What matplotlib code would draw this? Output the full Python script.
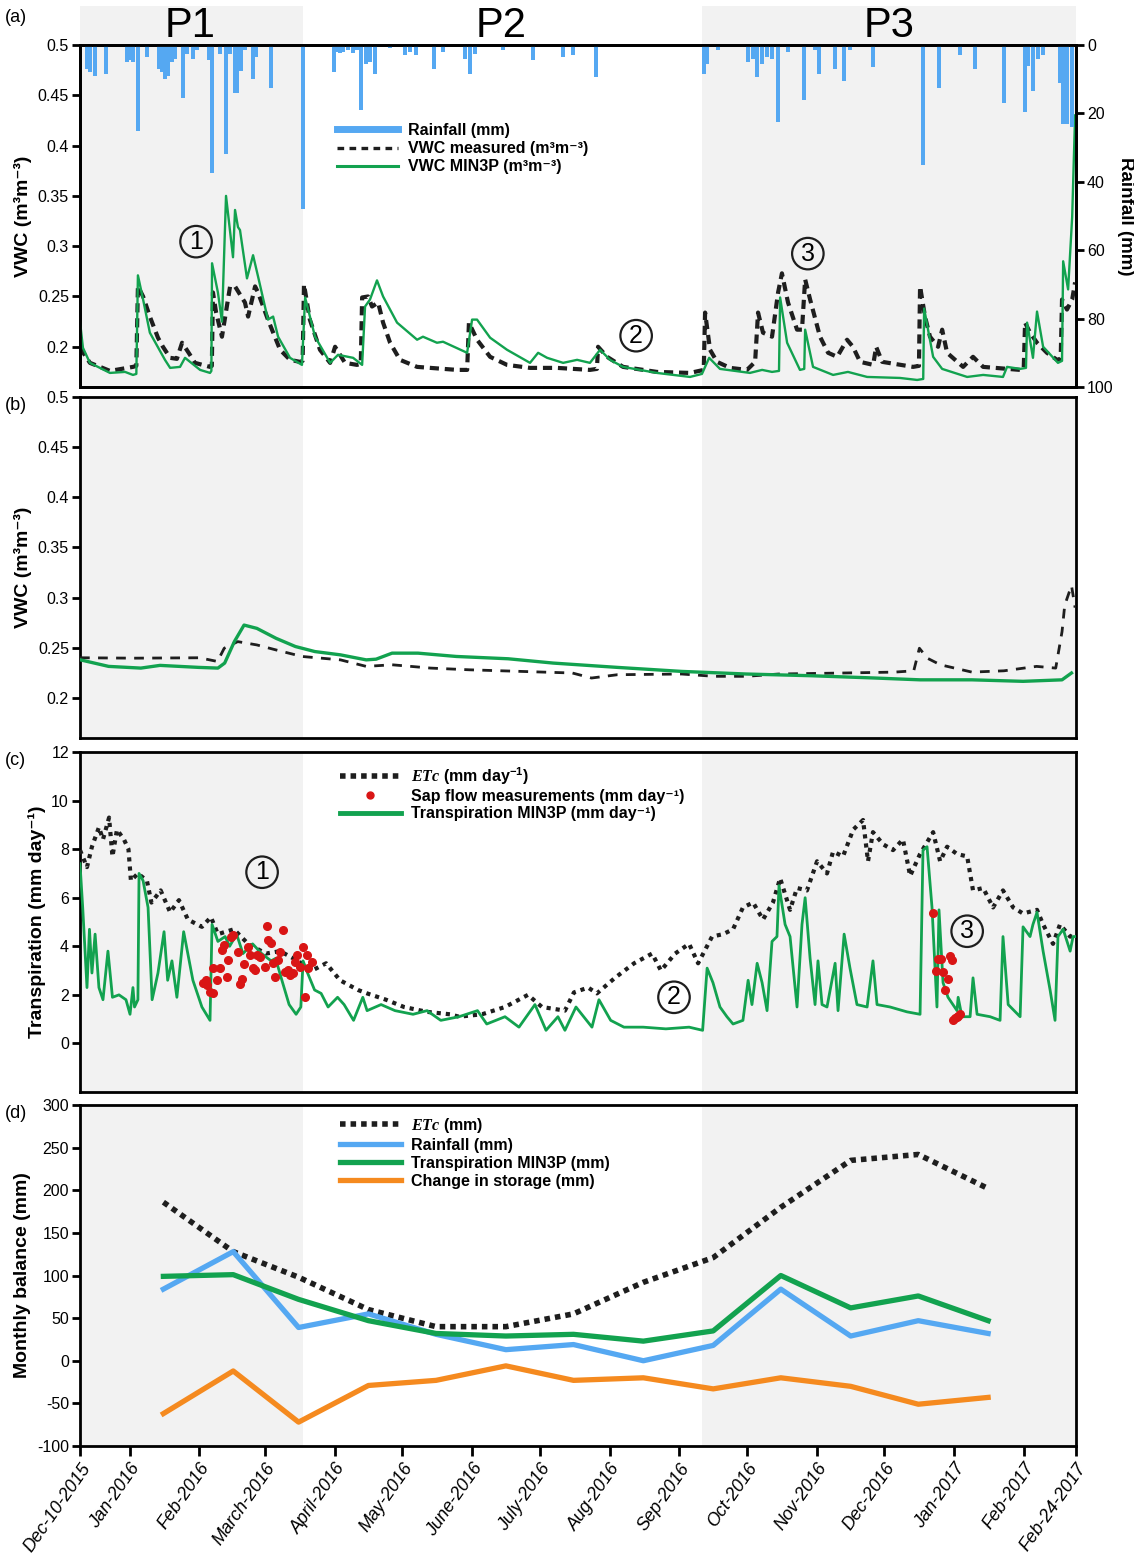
import numpy as np
import matplotlib
matplotlib.use("Agg")
import matplotlib.pyplot as plt
from matplotlib.lines import Line2D

plt.rcParams['font.family'] = ['Liberation Sans', 'DejaVu Sans']
plt.rcParams['mathtext.fontset'] = 'custom'
plt.rcParams['mathtext.it'] = 'Liberation Serif:italic:bold'
plt.rcParams['mathtext.default'] = 'regular'

START = np.datetime64('2015-12-10')
END = np.datetime64('2017-02-24')
P1 = ('2015-12-10', '2016-03-18')
P2 = ('2016-03-18', '2016-09-11')
P3 = ('2016-09-11', '2017-02-24')

# ---- data: (days since 2015-12-10, value) ----
rain = [(3, 7), (4.4, 8), (6.7, 9), (11.5, 8.5), (20.9, 5), (22.6, 4.5), (23.5, 5), (25.7, 25),
        (29.7, 3.5), (35, 7), (36.4, 8), (37.7, 10), (39, 9), (40.8, 5), (42.2, 4), (45.7, 15.5),
        (47.5, 2.5), (50.1, 4), (51.9, 1.5), (57.2, 4.5), (58.6, 37.5), (62.1, 2.5), (64.8, 32),
        (66.6, 2.5), (68.8, 14), (69.7, 14), (71.5, 7.5), (73.2, 1.5), (76.8, 10), (78.1, 3.5),
        (84.8, 12.5), (99, 48), (112.7, 8), (114, 2), (115.4, 2.4), (116.7, 2), (118.9, 1.5),
        (121.2, 2.3), (122.9, 1.5), (124.7, 19), (127, 5.5), (128.7, 5), (130.9, 8.5), (137.6, 1),
        (144.2, 3), (146.5, 2), (149.1, 3), (157.1, 7), (161.1, 2), (170.9, 4), (173.1, 8.5),
        (175.3, 2.5), (187.7, 1.5), (201, 4.5), (214.4, 3.5), (218.8, 3), (229, 9.5), (277, 8.5),
        (278.3, 5.5), (283.1, 1.5), (296.5, 5), (298.7, 4), (300.5, 9.5), (302.7, 5.5), (304.9, 3.5),
        (307.1, 4), (309.8, 22.5), (314.2, 2), (321.3, 16), (326.2, 1.5), (328, 8.5), (335.1, 7),
        (339.1, 10.5), (341.7, 1.5), (352, 6.5), (374.1, 35), (381.2, 12.5), (390.5, 3), (397.2, 7),
        (410.1, 17), (419.4, 19.5), (420.7, 6), (422.9, 13.5), (425.2, 4), (427.4, 3), (434.9, 11),
        (436.3, 23), (438, 23), (440.3, 24)]

vwc_meas_a = [(0, .199), (4.4, .184), (8.9, .18), (13.3, .176), (23.5, .18), (25, .181), (25.7, .26),
              (28, .25), (31, .23), (34.6, .209), (36.8, .2), (40, .189), (43, .188), (45.3, .204),
              (48.8, .192), (51, .184), (57.7, .18), (58.5, .181), (59, .254), (60.4, .234), (63, .21),
              (66.6, .26), (68.8, .26), (73.2, .244), (74.6, .23), (77.7, .26), (79, .254), (83.4, .227),
              (88.8, .197), (93.2, .187), (97.6, .185), (98.8, .186), (99.4, .262), (102, .227),
              (106.5, .197), (111, .184), (113.2, .2), (117.6, .184), (122.9, .182), (124.6, .183),
              (125.2, .249), (127.8, .25), (129.6, .24), (132.3, .244), (134.5, .224), (137.6, .204),
              (142, .187), (149.6, .18), (167.3, .177), (171.8, .177), (172.6, .224), (176.2, .207),
              (182, .19), (189.5, .182), (199.7, .179), (211.7, .179), (226.3, .177), (229.4, .178),
              (229.9, .2), (233.9, .19), (241, .18), (256, .175), (270.7, .174), (276.8, .177),
              (277.4, .234), (279.6, .197), (282.7, .185), (288.5, .179), (296, .177), (299.6, .185),
              (300.9, .234), (303.1, .214), (307.1, .21), (309.8, .254), (311.5, .273), (314.2, .244),
              (318.2, .217), (320.4, .217), (321.8, .267), (324, .247), (328.4, .21), (332, .194),
              (336, .19), (340.4, .207), (343, .2), (346.2, .185), (352, .182), (353.3, .2), (356, .185),
              (369.7, .18), (372.3, .181), (372.8, .26), (375, .23), (377.2, .21), (380.8, .2),
              (382.6, .217), (384.8, .194), (391.9, .18), (396.3, .19), (400.8, .18), (417.2, .177),
              (418.8, .178), (419.4, .224), (421.6, .214), (424.7, .204), (429.1, .194), (433.6, .187),
              (435.2, .188), (435.8, .247), (438, .237), (440.3, .247), (441.6, .264)]

vwc_min3p_a = [(0, .225), (1.3, .199), (4.4, .184), (13.3, .174), (20, .175), (23.5, .172), (25, .173),
               (25.7, .271), (28, .247), (31, .214), (37.7, .187), (40, .179), (44.4, .18), (46.6, .189),
               (53.3, .177), (57.7, .174), (58.3, .176), (58.6, .283), (61.2, .254), (63, .225),
               (64.8, .35), (67.9, .289), (68.8, .336), (70.1, .319), (71, .316), (74.1, .268),
               (76.8, .291), (79, .27), (83.4, .227), (85.7, .23), (87.9, .21), (93.2, .189), (98.5, .182),
               (99.9, .249), (104.3, .21), (111, .184), (114.5, .192), (121.2, .189), (125.2, .182),
               (126.5, .24), (128.7, .247), (131.8, .266), (134.5, .25), (140.7, .224), (149.6, .207),
               (152.2, .21), (158.4, .204), (161.1, .205), (171.8, .194), (174, .227), (176.2, .227),
               (182, .209), (189.5, .197), (199.7, .184), (203.3, .194), (207.3, .189), (214.4, .184),
               (220.6, .187), (226.3, .184), (230.8, .197), (235.2, .187), (241, .18), (256, .174),
               (270.7, .17), (276, .173), (279.2, .189), (284, .178), (297.3, .174), (302.7, .177),
               (307.1, .175), (310.2, .176), (310.7, .249), (313.8, .204), (319.5, .177), (321.4, .178),
               (321.8, .217), (325.3, .18), (334.2, .172), (340.8, .175), (349.3, .17), (363.9, .169),
               (371.5, .167), (374.2, .168), (374.6, .238), (378.6, .19), (382.6, .178), (393.7, .17),
               (400.8, .172), (409.6, .17), (411.4, .18), (417.2, .178), (419.8, .179), (420.3, .224),
               (422.9, .189), (424.7, .235), (427.4, .2), (434, .184), (435.8, .186), (436.3, .285),
               (438.5, .257), (440.3, .329), (441.6, .43)]

vwc_meas_b = [(0, .24), (24, .2396), (53, .24), (61, .2363), (64, .2495), (70, .2561), (78.5, .2528),
              (87, .2478), (98.5, .2413), (115.6, .2379), (127, .2314), (138.5, .233), (155.6, .2297),
              (172.8, .228), (195.7, .2264), (218.5, .2248), (227, .2198), (238.5, .2231), (267, .2238),
              (281.4, .2215), (295.7, .2215), (310, .2238), (338.6, .2248), (361.5, .2257), (370, .227),
              (372.5, .2495), (376, .2396), (381.8, .233), (395.8, .2257), (410, .227), (424.5, .2314),
              (433, .2297), (435.8, .266), (437, .2924), (440, .312), (441.6, .29)]

vwc_min3p_b = [(0, .238), (12.7, .2314), (27, .2297), (35.5, .2324), (52.7, .2304), (61.2, .2297),
               (64.2, .2347), (68.5, .2561), (72.8, .2726), (78.5, .2693), (87, .2594), (95.6, .2512),
               (104.2, .2462), (115.6, .2429), (127, .2379), (131.4, .2386), (138.5, .2446), (150, .2446),
               (167, .2413), (190, .239), (210, .2347), (238.5, .2304), (267, .2264), (295.7, .2238),
               (324.3, .2221), (352.8, .2198), (372.8, .218), (395.8, .218), (418.5, .2165),
               (435.8, .218), (440, .2248)]

etc_daily = [(0, 7.96), (3.1, 7.26), (5.3, 8.1), (8.4, 8.9), (10.2, 8.4), (12.9, 9.3), (14.4, 7.7),
             (16.4, 8.8), (19.5, 8.4), (21.5, 8.0), (22.6, 6.7), (25.7, 7.0), (29.7, 6.7), (31.7, 5.8),
             (35.8, 6.3), (40, 5.4), (43.9, 5.9), (47.9, 5.1), (54.1, 4.8), (58.1, 5.2), (61.2, 4.5),
             (68.3, 4.7), (74.6, 4.1), (82.5, 3.7), (88.8, 3.8), (96.7, 3.4), (103, 3.0), (109.2, 3.3),
             (115.4, 2.6), (123.4, 2.2), (127.4, 2.06), (135.8, 1.8), (143.8, 1.5), (154, 1.3),
             (164.2, 1.2), (168.2, 1.1), (178.4, 1.2), (188.6, 1.5), (198.8, 2.0), (205, 1.5),
             (215.2, 1.35), (219.2, 2.1), (225.5, 2.3), (229.4, 2.06), (237.4, 2.7), (245.9, 3.3),
             (253.9, 3.7), (257.8, 3.0), (264.1, 3.7), (270.3, 4.1), (274.3, 3.3), (280.5, 4.4),
             (285.4, 4.5), (289.8, 4.7), (294.2, 5.6), (298.7, 5.8), (303.1, 5.1), (307.5, 5.8),
             (310.7, 6.8), (315.1, 5.5), (318.2, 6.4), (322.6, 6.3), (327.1, 7.5), (331.5, 7.0),
             (334.2, 7.9), (338.6, 7.7), (343.1, 8.8), (347.5, 9.2), (349.7, 7.5), (351.9, 8.7),
             (356.4, 8.2), (360.8, 7.96), (365.2, 8.4), (368.4, 6.9), (372.8, 7.8), (378.6, 8.7),
             (381.7, 7.5), (384.8, 8.1), (389.2, 7.8), (393.7, 7.7), (396.3, 6.3), (400.8, 6.4),
             (405.2, 5.6), (409.6, 6.3), (414.1, 5.6), (418.5, 5.35), (424.7, 5.5), (427.4, 4.9),
             (431.8, 4.1), (434.9, 4.9), (439.4, 4.4), (441.6, 4.4)]

transp_min3p = [(0, 7.4), (1.2, 5.6), (3.1, 2.3), (4.2, 4.7), (5.3, 2.9), (6.7, 4.5), (8.4, 2.3),
                (10.2, 1.8), (12.4, 3.8), (14.4, 1.9), (17.3, 2.0), (20.4, 1.8), (22.2, 1.2), (23.5, 2.3),
                (24.2, 1.5), (25.7, 1.8), (26.2, 7.0), (28, 6.7), (30.2, 5.6), (32, 1.8), (34.6, 2.9),
                (37.3, 4.6), (38.9, 2.6), (40.8, 3.4), (43, 1.9), (46, 4.6), (50.1, 2.6), (54.1, 1.5),
                (57.7, 0.95), (58.6, 4.9), (61.2, 4.2), (64.4, 4.4), (66.4, 4.0), (69.5, 4.5), (72.3, 3.7),
                (76.6, 4.1), (80.6, 3.7), (84.8, 3.4), (86.8, 3.5), (89.6, 2.6), (92.8, 1.6), (95.9, 1.2),
                (98, 1.5), (99, 3.4), (101, 2.9), (104.1, 2.2), (107, 2.06), (110.1, 1.5), (114.3, 1.9),
                (117.2, 1.6), (121.4, 0.95), (125.5, 1.9), (127.4, 1.35), (133.6, 1.6), (139.8, 1.35),
                (147.8, 1.2), (154, 1.35), (160.1, 0.95), (168.2, 1.1), (176.4, 1.35), (180.5, 0.8),
                (188.6, 1.1), (194.8, 0.67), (201.9, 1.6), (206.8, 0.54), (212.1, 1.1), (215.2, 0.54),
                (220.1, 1.5), (227.2, 0.67), (230.3, 1.8), (235.5, 0.95), (241.4, 0.67), (249.9, 0.67),
                (260, 0.6), (270.3, 0.67), (276.3, 0.54), (278.3, 3.1), (280.9, 2.5), (284, 1.5),
                (287.1, 1.1), (289.8, 0.8), (294.2, 0.95), (296.5, 2.6), (298.2, 1.6), (300.5, 3.3),
                (302.7, 2.5), (304.9, 1.35), (307.1, 4.2), (309.3, 4.4), (310.2, 6.5), (312.9, 4.9),
                (315.1, 4.4), (318.2, 1.5), (320.4, 4.9), (321.8, 6.0), (324, 3.5), (326.2, 1.6),
                (327.5, 3.4), (329.3, 1.6), (331.5, 1.5), (335.1, 3.3), (336.4, 1.35), (339.1, 4.5),
                (341.7, 3.1), (344.8, 1.6), (349.3, 1.5), (351.9, 3.4), (353.7, 1.6), (359.5, 1.5),
                (367, 1.3), (372.8, 1.2), (374.1, 7.96), (375.9, 8.1), (378.1, 5.6), (380.3, 1.5),
                (381.2, 5.5), (383, 2.5), (385.2, 1.9), (389.2, 1.35), (389.7, 1.9), (391.4, 1.1),
                (395, 1.1), (396.3, 2.7), (398.1, 1.2), (403.9, 1.1), (408.3, 0.95), (409.6, 4.4),
                (411.9, 1.6), (417.2, 1.1), (418.5, 4.8), (421.6, 4.4), (422.9, 4.9), (424.7, 5.4),
                (427.4, 3.8), (430.5, 2.2), (432.7, 0.95), (434, 4.4), (436.3, 4.7), (439.4, 3.8),
                (440.7, 4.4), (442, 4.4)]

sap_flow = [(82.9, 4.82), (90, 4.66), (67.9, 4.45), (66.9, 4.38), (63.9, 4.04), (62.9, 3.84), (70.1, 3.77),
            (74.6, 3.97), (75.4, 3.63), (78.4, 3.63), (79.9, 3.54), (83.4, 4.25), (84.6, 4.12),
            (88.8, 3.77), (87.9, 3.42), (85.7, 3.3), (82.1, 3.13), (65.7, 3.42), (72.8, 3.26),
            (76.8, 3.09), (77.7, 3.01), (99, 3.97), (96.2, 3.63), (95.4, 3.35), (100.6, 3.63),
            (102.8, 3.35), (97.6, 3.15), (101.2, 3.09), (92.3, 3.01), (91, 2.94), (93.2, 2.8),
            (94.4, 2.88), (86.5, 2.73), (62.1, 3.09), (58.9, 3.09), (65.1, 2.73), (60.7, 2.63),
            (71.8, 2.67), (71, 2.43), (55.9, 2.63), (54.6, 2.47), (56.2, 2.39), (57.7, 2.12),
            (59.2, 2.06), (99.9, 1.91),
            (378.7, 5.35), (380.9, 3.49), (382, 3.46), (386.1, 3.59), (386.9, 3.42), (379.9, 2.98),
            (382.9, 2.94), (385.1, 2.64), (383.9, 2.19), (387.6, 0.95), (389.1, 1.08), (390.5, 1.2),
            (389.8, 1.11), (388.2, 1.03)]

month_mid = ['2016-01-16', '2016-02-16', '2016-03-16', '2016-04-16', '2016-05-16', '2016-06-16',
             '2016-07-16', '2016-08-16', '2016-09-16', '2016-10-16', '2016-11-16', '2016-12-16',
             '2017-01-16']
etc_month = [186, 128, 98, 60, 40, 40, 55, 92, 121, 180, 235, 242, 202]
rain_month = [84, 128, 39, 55, 31, 13, 19, 0, 18, 84, 29, 47, 32]
transp_month = [99, 101, 72, 47, 32, 29, 31, 23, 35, 100, 62, 76, 47]
storage_month = [-62, -12, -72, -29, -23, -6, -23, -20, -33, -20, -30, -51, -43]

tick_dates = ['2015-12-10', '2016-01-01', '2016-02-01', '2016-03-01', '2016-04-01', '2016-05-01',
              '2016-06-01', '2016-07-01', '2016-08-01', '2016-09-01', '2016-10-01', '2016-11-01',
              '2016-12-01', '2017-01-01', '2017-02-01', '2017-02-24']
tick_labels = ['Dec-10-2015', 'Jan-2016', 'Feb-2016', 'March-2016', 'April-2016', 'May-2016',
               'June-2016', 'July-2016', 'Aug-2016', 'Sep-2016', 'Oct-2016', 'Nov-2016',
               'Dec-2016', 'Jan-2017', 'Feb-2017', 'Feb-24-2017']

BLUE = '#55a8f2'
GREEN = '#12a24f'
ORANGE = '#f58a1f'
RED = '#d91515'
BLACK = '#1e1e1e'
SHADE = '#f2f2f2'


def to_dates(days):
    mins = np.round(np.asarray(days, dtype=float) * 1440).astype('timedelta64[m]')
    return START + mins


def split(pairs):
    arr = np.array(pairs, dtype=float)
    return to_dates(arr[:, 0]), arr[:, 1]


def shade(ax):
    for s, e in (P1, P3):
        ax.axvspan(np.datetime64(s), np.datetime64(e), color=SHADE, lw=0, zorder=0)
    ax.set_xlim(START, END)


def style(ax, show_x=False):
    for sp in ax.spines.values():
        sp.set_linewidth(2)
    ax.tick_params(axis='y', direction='out', length=6, width=2, labelsize=11.5, pad=2)
    if not show_x:
        ax.tick_params(axis='x', bottom=False, labelbottom=False)


def circle_label(ax, d, v, s):
    ax.text(to_dates([d])[0], v, s, fontsize=18, ha='center', va='center', zorder=6,
            bbox=dict(boxstyle='circle,pad=0.15', fc='none', ec=BLACK, lw=1.6))


LEG = dict(loc='upper left', frameon=False, borderpad=0, borderaxespad=0,
           handlelength=3.8, handletextpad=0.65, prop={'weight': 'bold', 'size': 11.5})

fig = plt.figure(figsize=(11.34, 15.53), dpi=100)
H = 1553.0
L, W = 80 / 1134, 996 / 1134

ax_h = fig.add_axes([L, 1 - 45 / H, W, 39 / H])
ax_a = fig.add_axes([L, 1 - 387 / H, W, 342 / H])
ax_b = fig.add_axes([L, 1 - 738 / H, W, 341 / H])
ax_c = fig.add_axes([L, 1 - 1092 / H, W, 340 / H])
ax_d = fig.add_axes([L, 1 - 1446 / H, W, 341 / H])

# header with periods
shade(ax_h)
ax_h.set_ylim(0, 1)
ax_h.axis('off')
for name, (s, e) in zip(['P1', 'P2', 'P3'], [P1, P2, P3]):
    mid = np.datetime64(s) + (np.datetime64(e) - np.datetime64(s)) / 2
    ax_h.text(mid, -0.02, name, fontsize=30, ha='center', va='bottom')

# (a)
shade(ax_a)
x, y = split(vwc_meas_a)
ax_a.plot(x, y, color=BLACK, lw=3, ls=(0, (2.2, 1.4)), zorder=3)
x, y = split(vwc_min3p_a)
ax_a.plot(x, y, color=GREEN, lw=1.7, zorder=4)
ax_a.set_ylim(0.16, 0.5)
ax_a.set_yticks([0.2, 0.25, 0.3, 0.35, 0.4, 0.45, 0.5])
ax_a.set_yticklabels(['0.2', '0.25', '0.3', '0.35', '0.4', '0.45', '0.5'])
ax_a.set_ylabel('VWC (m³m⁻³)', fontsize=14, fontweight='bold', labelpad=4)
style(ax_a)
ax_r = ax_a.twinx()
x, y = split(rain)
ax_r.bar(x, y, width=1.8, color=BLUE, zorder=2)
ax_r.set_ylim(100, 0)
ax_r.set_yticks([0, 20, 40, 60, 80, 100])
ax_r.set_ylabel('Rainfall (mm)', rotation=270, fontsize=13.5, fontweight='bold', labelpad=2,
                va='bottom')
style(ax_r)
ax_r.set_xlim(START, END)
circle_label(ax_r, 51.5, 57.5, '1')
circle_label(ax_r, 246.8, 85, '2')
circle_label(ax_r, 323, 61, '3')
leg_a = [Line2D([], [], color=BLUE, lw=5),
         Line2D([], [], color=BLACK, lw=2.4, ls=(0, (2, 1.6))),
         Line2D([], [], color=GREEN, lw=2.2)]
ax_r.legend(leg_a, ['Rainfall (mm)', 'VWC measured (m³m⁻³)', 'VWC MIN3P (m³m⁻³)'],
            bbox_to_anchor=(0.258, 0.772), labelspacing=0.2, **LEG)

# (b)
shade(ax_b)
x, y = split(vwc_meas_b)
ax_b.plot(x, y, color=BLACK, lw=2, ls=(0, (3.5, 3)), zorder=3)
x, y = split(vwc_min3p_b)
ax_b.plot(x, y, color=GREEN, lw=2.4, zorder=4)
ax_b.set_ylim(0.16, 0.5)
ax_b.set_yticks([0.2, 0.25, 0.3, 0.35, 0.4, 0.45, 0.5])
ax_b.set_yticklabels(['0.2', '0.25', '0.3', '0.35', '0.4', '0.45', '0.5'])
ax_b.set_ylabel('VWC (m³m⁻³)', fontsize=14, fontweight='bold', labelpad=4)
style(ax_b)

# (c)
shade(ax_c)
x, y = split(etc_daily)
ax_c.plot(x, y, color=BLACK, lw=3, ls=(0, (1, 1.2)), zorder=3)
x, y = split(transp_min3p)
ax_c.plot(x, y, color=GREEN, lw=2, zorder=4)
x, y = split(sap_flow)
ax_c.plot(x, y, 'o', color=RED, ms=5.5, zorder=5)
ax_c.set_ylim(-2, 12)
ax_c.set_yticks(range(0, 13, 2))
ax_c.set_ylabel('Transpiration (mm day⁻¹)', fontsize=14, fontweight='bold', labelpad=4)
style(ax_c)
circle_label(ax_c, 80.8, 7.05, '1')
circle_label(ax_c, 263.6, 1.9, '2')
circle_label(ax_c, 393.7, 4.62, '3')
leg_c = [Line2D([], [], color=BLACK, lw=4, ls=(0, (1, 0.9))),
         Line2D([], [], color=RED, marker='o', ls='none', ms=5),
         Line2D([], [], color=GREEN, lw=3.5)]
ax_c.legend(leg_c, [r'$\mathit{ETc}$ (mm day$^{-1}$)', 'Sap flow measurements (mm day⁻¹)',
                    'Transpiration MIN3P (mm day⁻¹)'],
            bbox_to_anchor=(0.261, 0.962), labelspacing=0.15, **LEG)

# (d)
shade(ax_d)
xm = np.array(month_mid, dtype='datetime64[D]')
ax_d.plot(xm, etc_month, color=BLACK, lw=4, ls=(0, (1, 0.9)), zorder=3)
ax_d.plot(xm, rain_month, color=BLUE, lw=3.8, zorder=4)
ax_d.plot(xm, transp_month, color=GREEN, lw=3.8, zorder=4)
ax_d.plot(xm, storage_month, color=ORANGE, lw=3.8, zorder=4)
ax_d.set_ylim(-100, 300)
ax_d.set_yticks(range(-100, 301, 50))
ax_d.set_yticklabels([str(v) for v in range(-100, 301, 50)])
ax_d.set_ylabel('Monthly balance (mm)', fontsize=14, fontweight='bold', labelpad=4)
style(ax_d, show_x=True)
ax_d.set_xticks(np.array(tick_dates, dtype='datetime64[D]'))
ax_d.set_xticklabels(tick_labels, rotation=55, ha='right', va='top', rotation_mode='anchor',
                     style='italic', fontsize=13)
ax_d.tick_params(axis='x', direction='out', length=7, width=2, pad=3)
ax_d.set_xlim(START, END)
leg_d = [Line2D([], [], color=BLACK, lw=4, ls=(0, (1, 0.9))),
         Line2D([], [], color=BLUE, lw=3.8),
         Line2D([], [], color=GREEN, lw=3.8),
         Line2D([], [], color=ORANGE, lw=3.8)]
ax_d.legend(leg_d, [r'$\mathit{ETc}$ (mm)', 'Rainfall (mm)', 'Transpiration MIN3P (mm)',
                    'Change in storage (mm)'],
            bbox_to_anchor=(0.261, 0.968), labelspacing=0.18, **LEG)

# panel letters
for lab, ypx in [('(a)', 18), ('(b)', 405), ('(c)', 760), ('(d)', 1113)]:
    fig.text(0.004, 1 - ypx / H, lab, fontsize=13, va='center', ha='left')

fig.savefig('out.png', dpi=100)
